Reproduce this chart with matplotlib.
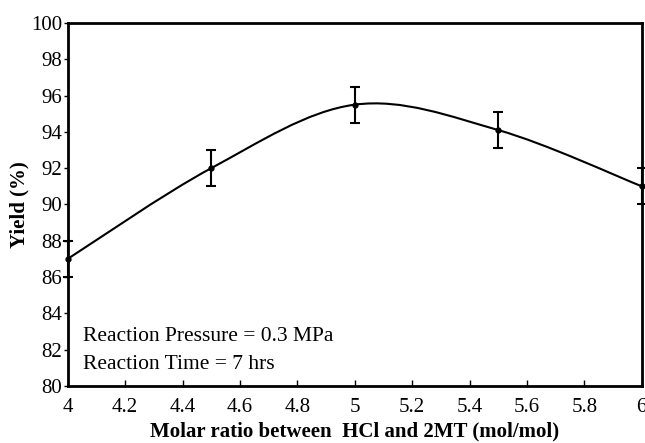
import numpy as np
import matplotlib.pyplot as plt
from matplotlib.path import Path
from matplotlib.patches import PathPatch

plt.rcParams["font.family"] = ["Liberation Serif", "DejaVu Serif"]

# data
ratio = [4.0, 4.5, 5.0, 5.5, 6.0]
yield_pct = [87.0, 92.0, 95.5, 94.1, 91.0]
yield_err = [1.0, 1.0, 1.0, 1.0, 1.0]
x_ticks = [4, 4.2, 4.4, 4.6, 4.8, 5, 5.2, 5.4, 5.6, 5.8, 6]
x_tick_labels = ["4", "4.2", "4.4", "4.6", "4.8", "5", "5.2", "5.4", "5.6", "5.8", "6"]
y_ticks = list(range(80, 101, 2))

fig = plt.figure(figsize=(6.45, 4.43), dpi=100)
ax = fig.add_axes([0.105, 0.129, 0.89, 0.819])

# smoothed line like the spreadsheet: cubic bezier segments through the points
pts = np.column_stack([ratio, yield_pct])
ext = np.vstack([pts[0], pts, pts[-1]])
verts = [tuple(pts[0])]
codes = [Path.MOVETO]
for i in range(len(pts) - 1):
    p0, p1, p2, p3 = ext[i], ext[i + 1], ext[i + 2], ext[i + 3]
    c1 = p1 + (p2 - p0) / 6
    c2 = p2 - (p3 - p1) / 6
    verts += [tuple(c1), tuple(c2), tuple(p2)]
    codes += [Path.CURVE4] * 3
ax.add_patch(PathPatch(Path(verts, codes), fill=False, edgecolor="black",
                       linewidth=1.5, clip_on=False, zorder=2))

ax.errorbar(ratio, yield_pct, yerr=yield_err, fmt="o", color="black",
            markersize=3.5, elinewidth=1.5, capsize=3.5, capthick=1.5,
            clip_on=False, zorder=3)

ax.set_xlim(4, 6)
ax.set_ylim(80, 100)
ax.set_xticks(x_ticks)
ax.set_xticklabels(x_tick_labels)
ax.set_yticks(y_ticks)
ax.tick_params(axis="x", direction="in", length=4, width=1, labelsize=15, pad=9)
ax.tick_params(axis="y", direction="out", length=3, width=1, labelsize=15, pad=1)
for s in ax.spines.values():
    s.set_linewidth(2)

ax.set_xlabel("Molar ratio between  HCl and 2MT (mol/mol)", fontsize=15,
              fontweight="bold", labelpad=3)
ax.set_ylabel("Yield (%)", fontsize=15, fontweight="bold", labelpad=1)

ax.text(4.052, 82.7, "Reaction Pressure = 0.3 MPa", fontsize=15.5, va="center")
ax.text(4.052, 81.2, "Reaction Time = 7 hrs", fontsize=15.5, va="center")

plt.savefig("out.png", dpi=100)
